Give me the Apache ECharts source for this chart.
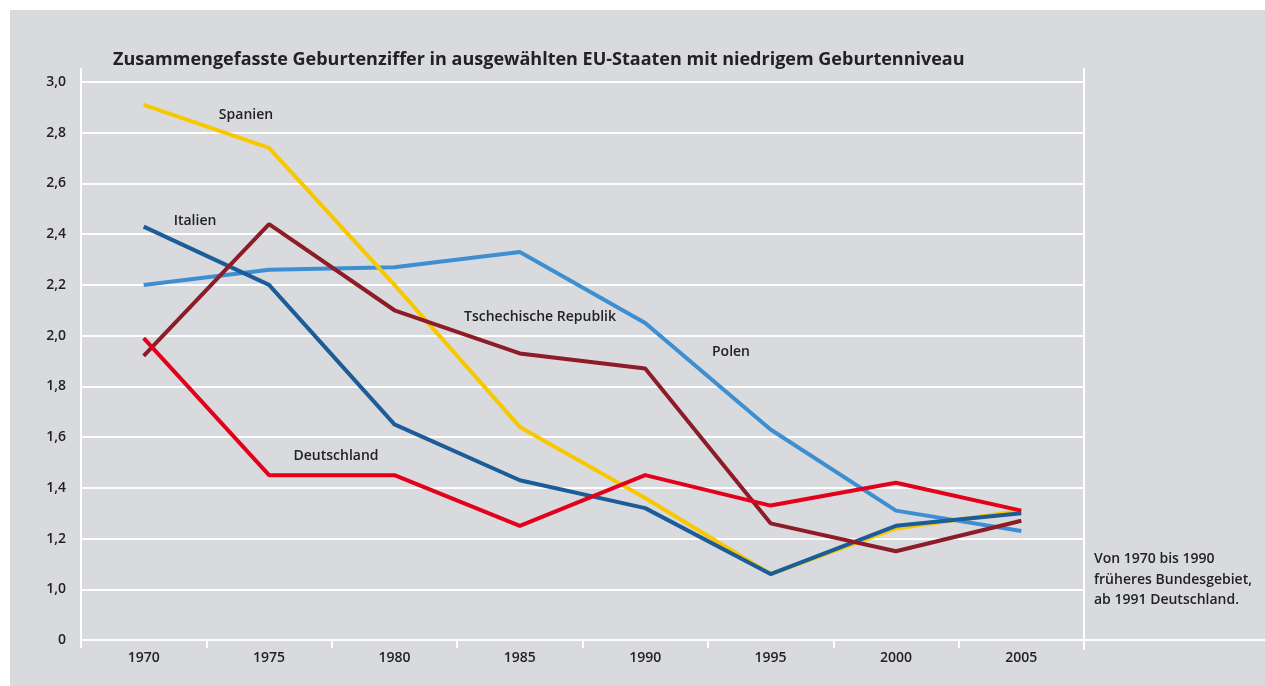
<!DOCTYPE html>
<html>
<head>
<meta charset="utf-8">
<script src="https://cdn.jsdelivr.net/npm/echarts@6/dist/echarts.min.js"></script>
<style>
  html, body { margin: 0; padding: 0; background: #fff; }
</style>
</head>
<body>
<div id="main" style="width: 1265px; height: 686px"></div>
<script>
// Jahre und Geburtenziffern je Land
var years = ['1970', '1975', '1980', '1985', '1990', '1995', '2000', '2005'];
var spanien = [2.91, 2.74, 2.20, 1.64, 1.36, 1.06, 1.24, 1.31];
var italien = [2.43, 2.20, 1.65, 1.43, 1.32, 1.06, 1.25, 1.30];
var polen = [2.20, 2.26, 2.27, 2.33, 2.05, 1.63, 1.31, 1.23];
var tschechien = [1.92, 2.44, 2.10, 1.93, 1.87, 1.26, 1.15, 1.27];
var deutschland = [1.99, 1.45, 1.45, 1.25, 1.45, 1.33, 1.42, 1.31];

var font = 'Open Sans';
var grau = '#d9dadd';

var chart = echarts.init(document.getElementById('main'));

function linie(name, data, color) {
  return {
    name: name,
    type: 'line',
    data: data,
    symbol: 'none',
    lineStyle: { color: color, width: 4 },
    itemStyle: { color: color }
  };
}

function text(x, y, s, size, align) {
  return {
    type: 'text', x: x, y: y, z: 100,
    style: {
      text: s, fill: '#222', font: '600 ' + size + 'px "' + font + '"',
      textAlign: align || 'center', textVerticalAlign: 'middle'
    }
  };
}

chart.setOption({
  backgroundColor: '#fff',
  animation: false,
  grid: { left: 81, top: 82, width: 1003, height: 558 },
  xAxis: {
    type: 'category',
    data: years,
    boundaryGap: true,
    axisLine: { lineStyle: { color: '#fff', width: 2 } },
    axisTick: { show: true, length: 8, lineStyle: { color: '#fff', width: 2 } },
    axisLabel: { color: '#222', fontFamily: font, fontSize: 14, fontWeight: 600, margin: 11 },
    splitLine: { show: false }
  },
  yAxis: {
    type: 'value',
    min: 0.8, max: 3.0, interval: 0.2,
    axisLine: { show: true, lineStyle: { color: '#fff', width: 2 } },
    axisTick: { show: false },
    axisLabel: {
      color: '#222', fontFamily: font, fontSize: 14, fontWeight: 600, margin: 15,
      formatter: function (v) {
        return v < 0.9 ? '0' : v.toFixed(1).replace('.', ',');
      }
    },
    splitLine: { lineStyle: { color: '#fff', width: 2 } }
  },
  graphic: [
    { type: 'rect', z: -10, silent: true, shape: { x: 10, y: 10, width: 1255, height: 676 }, style: { fill: grau } },
    { type: 'line', z: -5, shape: { x1: 81, y1: 68, x2: 81, y2: 648 }, style: { stroke: '#fff', lineWidth: 2 } },
    { type: 'line', z: -5, shape: { x1: 1084, y1: 68, x2: 1084, y2: 650 }, style: { stroke: '#fff', lineWidth: 2 } },
    { type: 'line', z: -5, shape: { x1: 1084, y1: 640, x2: 1265, y2: 640 }, style: { stroke: '#fff', lineWidth: 2 } },
    {
      type: 'text', x: 113, y: 60, z: 100,
      style: {
        text: 'Zusammengefasste Geburtenziffer in ausgewählten EU-Staaten mit niedrigem Geburtenniveau',
        fill: '#222', font: 'bold 18px "' + font + '"', textVerticalAlign: 'middle'
      }
    },
    text(246, 115, 'Spanien', 14),
    text(195, 221, 'Italien', 14),
    text(540, 317, 'Tschechische Republik', 14),
    text(731, 352, 'Polen', 14),
    text(336, 456, 'Deutschland', 14),
    text(1094, 559, 'Von 1970 bis 1990', 14, 'left'),
    text(1094, 580, 'früheres Bundesgebiet,', 14, 'left'),
    text(1094, 600, 'ab 1991 Deutschland.', 14, 'left')
  ],
  series: [
    linie('Polen', polen, '#3d8fd1'),
    linie('Spanien', spanien, '#f7c800'),
    linie('Italien', italien, '#1b5c99'),
    linie('Tschechische Republik', tschechien, '#8c1c28'),
    linie('Deutschland', deutschland, '#e3001b')
  ]
});
</script>
</body>
</html>
